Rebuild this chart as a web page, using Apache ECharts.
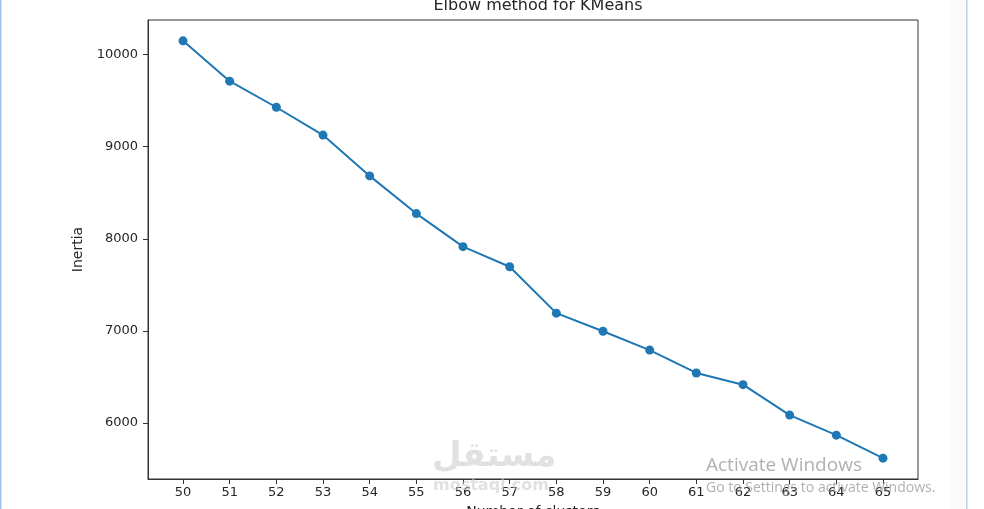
<!DOCTYPE html>
<html>
<head>
<meta charset="utf-8">
<script src="https://cdn.jsdelivr.net/npm/echarts@6/dist/echarts.min.js"></script>
<style>
  html, body { margin: 0; padding: 0; background: #fff; }
  #chart { width: 984px; height: 509px; }
</style>
</head>
<body>
<div id="chart"></div>
<script>
// k values and inertia
var clusters = [50, 51, 52, 53, 54, 55, 56, 57, 58, 59, 60, 61, 62, 63, 64, 65];
var inertia = [10149, 9711, 9428, 9126, 8683, 8274, 7915, 7697, 7193, 6997, 6792, 6544, 6417, 6087, 5869, 5619];
var yTicks = [6000, 7000, 8000, 9000, 10000];

var points = [];
for (var i = 0; i < clusters.length; i++) {
    points.push([clusters[i], inertia[i]]);
}

var chart = echarts.init(document.getElementById('chart'));
var txt = '#262626';
var option = {
    backgroundColor: '#fff',
    animation: false,
    title: {
        text: 'Elbow method for KMeans',
        left: 533,
        textAlign: 'center',
        top: -7,
        textStyle: { fontFamily: 'DejaVu Sans', fontSize: 16, fontWeight: 'normal', color: txt }
    },
    grid: {
        left: 148, right: 66, top: 20, bottom: 30,
        outerBoundsMode: 'none',
        containLabel: false,
        show: true, borderColor: '#333', borderWidth: 1, backgroundColor: 'transparent'
    },
    xAxis: {
        type: 'value',
        min: 49.25,
        max: 65.75,
        name: 'Number of clusters',
        nameLocation: 'middle',
        nameGap: 26,
        nameTextStyle: { fontFamily: 'DejaVu Sans', fontSize: 14, color: txt },
        splitLine: { show: false },
        axisLine: { lineStyle: { color: '#333', width: 1 } },
        axisTick: { customValues: clusters, length: 5, lineStyle: { color: '#333' } },
        axisLabel: { customValues: clusters, margin: 7, fontFamily: 'DejaVu Sans', fontSize: 13, color: txt }
    },
    yAxis: {
        type: 'value',
        min: 5393,
        max: 10375,
        name: 'Inertia',
        nameLocation: 'middle',
        nameRotate: 90,
        nameGap: 60,
        nameTextStyle: { fontFamily: 'DejaVu Sans', fontSize: 14, color: txt },
        splitLine: { show: false },
        axisLine: { show: true, lineStyle: { color: '#333', width: 1 } },
        axisTick: { show: true, customValues: yTicks, length: 5, lineStyle: { color: '#333' } },
        axisLabel: {
            customValues: yTicks, margin: 10, fontFamily: 'DejaVu Sans', fontSize: 13, color: txt,
            formatter: function (v) { return String(v); }
        }
    },
    series: [{
        type: 'line',
        data: points,
        color: '#1f77b4',
        lineStyle: { width: 2, color: '#1f77b4' },
        symbol: 'circle',
        symbolSize: 9,
        itemStyle: { color: '#1f77b4' }
    }],
    graphic: [
        { type: 'rect', left: 0, top: 0, shape: { width: 1.5, height: 509 }, style: { fill: '#9fc3ea' } },
        { type: 'rect', left: 951, top: 0, shape: { width: 15, height: 509 }, style: { fill: '#fafafa' } },
        { type: 'rect', left: 966, top: 0, shape: { width: 1.5, height: 509 }, style: { fill: '#b9d2ee' } },
        { type: 'text', left: 432, top: 440, z: 100,
          style: { text: 'مستقل', font: 'bold 34px "DejaVu Sans"', fill: 'rgba(200,200,200,0.55)' } },
        { type: 'text', left: 433, top: 478, z: 100,
          style: { text: 'mostaql.com', font: 'bold 16px "DejaVu Sans"', fill: 'rgba(200,200,200,0.55)' } },
        { type: 'text', left: 706, top: 456, z: 100,
          style: { text: 'Activate Windows', font: '19px "Open Sans"', fill: 'rgba(150,150,150,0.75)' } },
        { type: 'text', left: 706, top: 481, z: 100,
          style: { text: 'Go to Settings to activate Windows.', font: '14px "Open Sans"', fill: 'rgba(150,150,150,0.75)' } }
    ]
};
chart.setOption(option);
</script>
</body>
</html>
